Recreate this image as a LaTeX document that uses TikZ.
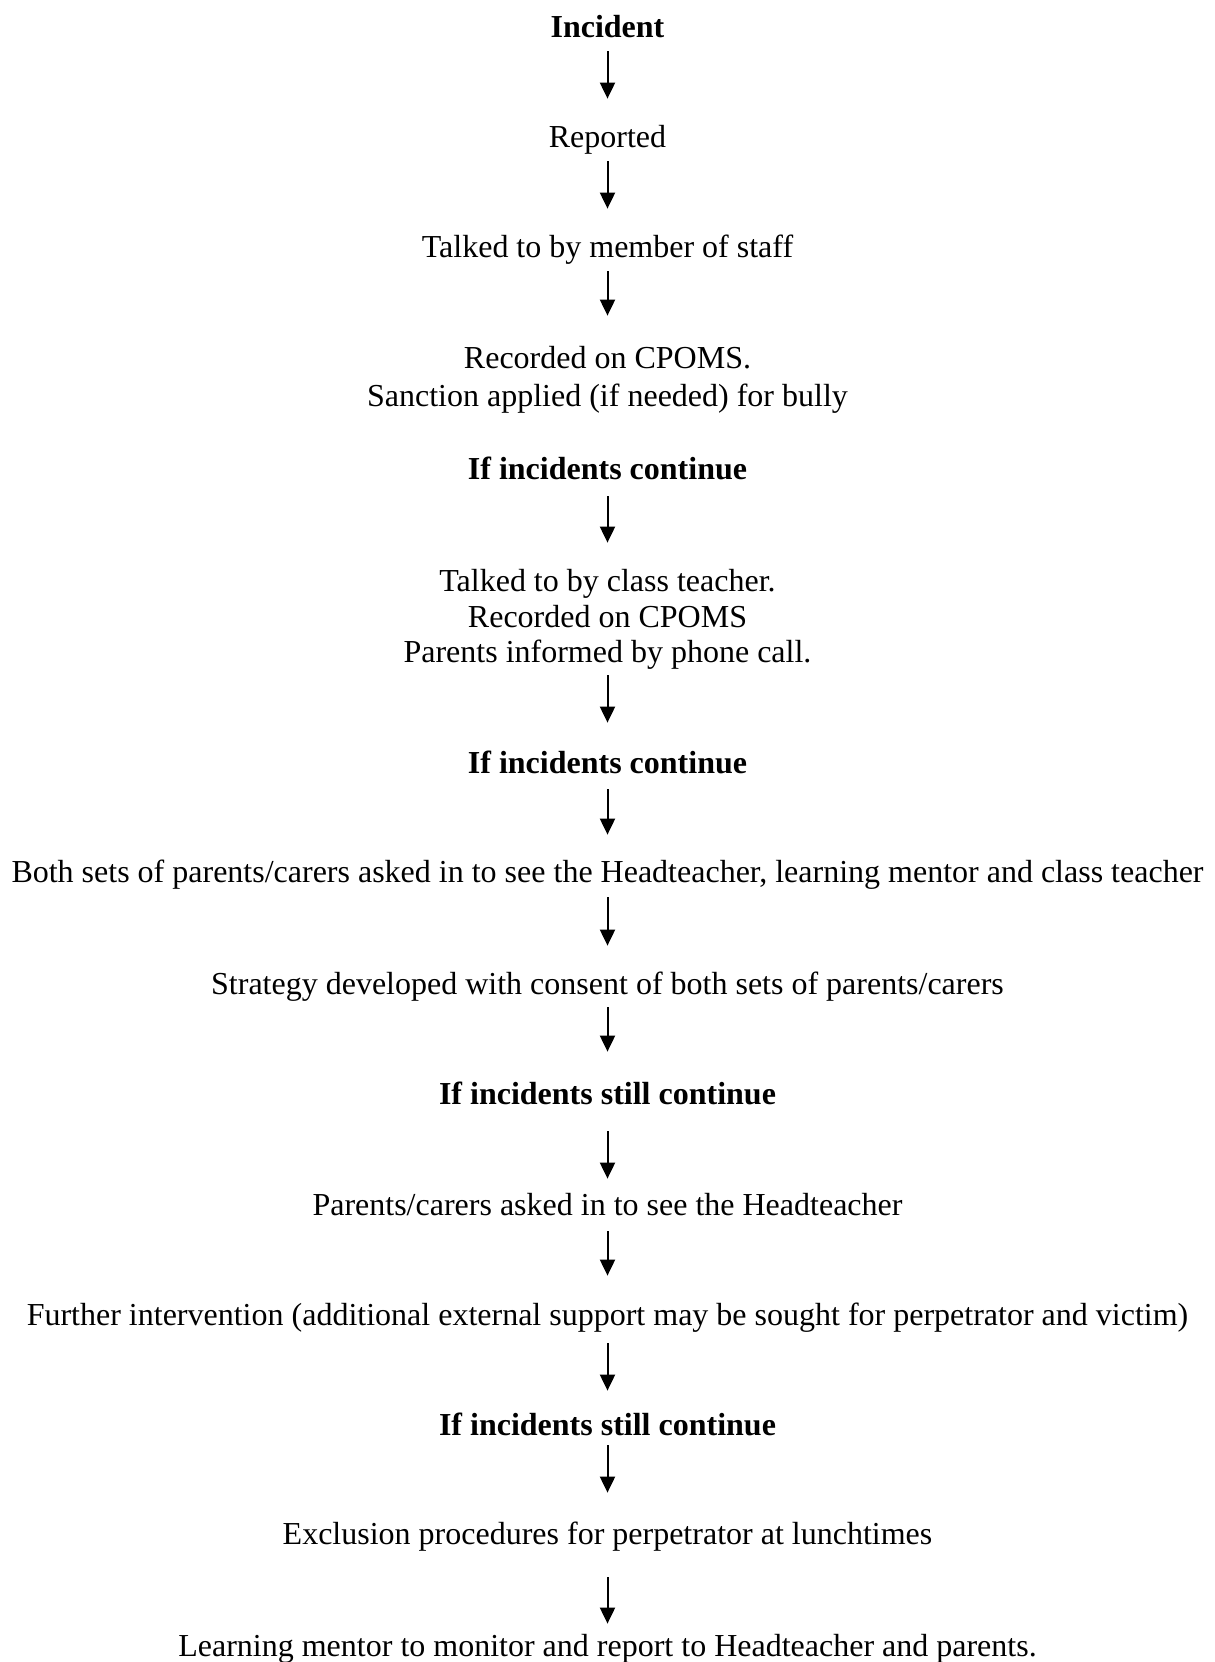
\documentclass[tikz,border=0pt]{standalone}
\usepackage{fontspec}
\setmainfont{Liberation Serif}
\usetikzlibrary{arrows.meta}
\tikzset{
  txt/.style={inner sep=0pt, text height=13pt, text depth=2pt, font=\fontsize{16}{18}\selectfont},
  hd/.style={txt, font=\fontsize{16}{18}\selectfont\bfseries},
  arr/.style={line width=1pt, -{Triangle[width=7.5pt,length=8pt]}}
}
\newcommand\flowarrow[4]{\draw[arr, shorten <=#3, shorten >=#4] (#1.south) -- (#2.north);}
\begin{document}
\begin{tikzpicture}[x=0.5pt,y=-0.5pt]
\useasboundingbox (0,0) rectangle (1215,1662);
\node[hd]  (n1)  at (607.5,26.5) {Incident};
\node[txt] (n2)  at (607.5,136) {Reported};
\node[txt] (n3)  at (607.5,246) {Talked to by member of staff};
\node[txt] (n4a) at (607.5,357) {Recorded on CPOMS.};
\node[txt] (n4b) at (607.5,395) {Sanction applied (if needed) for bully};
\node[hd]  (n5)  at (607.5,468) {If incidents continue};
\node[txt] (n6a) at (607.5,580) {Talked to by class teacher.};
\node[txt] (n6b) at (607.5,616) {Recorded on CPOMS};
\node[txt] (n6c) at (607.5,651) {Parents informed by phone call.};
\node[hd]  (n7)  at (607.5,762) {If incidents continue};
\node[txt] (n8)  at (607.5,871) {Both sets of parents/carers asked in to see the Headteacher, learning mentor and class teacher};
\node[txt] (n9)  at (607.5,983) {Strategy developed with consent of both sets of parents/carers};
\node[hd]  (n10) at (607.5,1093) {If incidents still continue};
\node[txt] (n11) at (607.5,1204) {Parents/carers asked in to see the Headteacher};
\node[txt] (n12) at (607.5,1314) {Further intervention (additional external support may be sought for perpetrator and victim)};
\node[hd]  (n13) at (607.5,1424) {If incidents still continue};
\node[txt] (n14) at (607.5,1533) {Exclusion procedures for perpetrator at lunchtimes};
\node[txt] (n15) at (607.5,1645) {Learning mentor to monitor and report to Headteacher and parents.};
\flowarrow{n1}{n2}{4.75pt}{11pt}
\flowarrow{n2}{n3}{5pt}{11pt}
\flowarrow{n3}{n4a}{5pt}{13pt}
\flowarrow{n5}{n6a}{6.5pt}{11pt}
\flowarrow{n6c}{n7}{4.5pt}{12pt}
\flowarrow{n7}{n8}{6pt}{10.5pt}
\flowarrow{n8}{n9}{5.5pt}{11pt}
\flowarrow{n9}{n10}{4.5pt}{13pt}
\flowarrow{n10}{n11}{11.5pt}{5pt}
\flowarrow{n11}{n12}{6pt}{11.5pt}
\flowarrow{n12}{n13}{7pt}{9pt}
\flowarrow{n13}{n14}{3pt}{12.5pt}
\flowarrow{n14}{n15}{14.5pt}{3pt}
\end{tikzpicture}
\end{document}
